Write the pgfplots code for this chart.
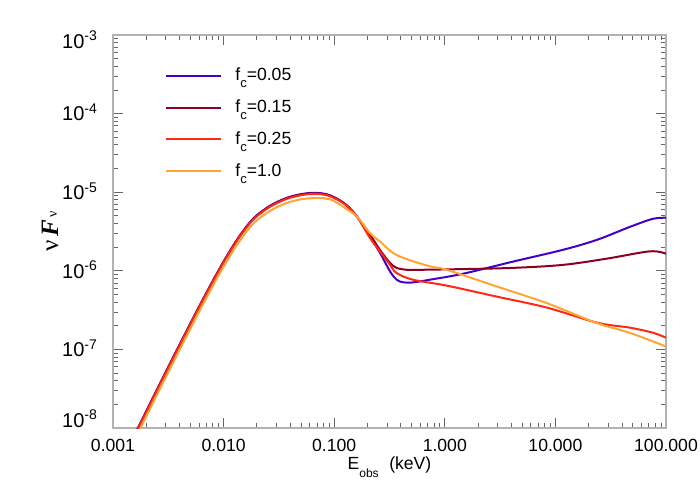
\documentclass[border=0pt]{standalone}
\usepackage{fontspec}
\setmainfont{Liberation Sans}
\newfontfamily\serifgr{Liberation Serif}
\usepackage{pgfplots}
\pgfplotsset{compat=1.18}
\definecolor{cblue}{RGB}{68,0,200}
\definecolor{cmaroon}{RGB}{140,0,35}
\definecolor{cred}{RGB}{255,40,20}
\definecolor{corange}{RGB}{255,165,50}
\pgfplotstableread{
x y
0.00150 7.4e-9
0.00168 1.0e-8
0.00255 3.27e-8
0.00387 1.05e-7
0.00613 3.71e-7
0.00927 1.09e-6
0.0132 2.48e-6
0.01845 4.59e-6
0.02627 6.72e-6
0.0374 8.49e-6
0.0523 9.55e-6
0.0698 9.8e-6
0.0916 9.14e-6
0.1254 7.12e-6
0.161 4.87e-6
0.211 2.71e-6
0.259 1.70e-6
0.320 9.82e-7
0.367 7.71e-7
0.422 7.13e-7
0.519 7.13e-7
0.734 7.71e-7
1.461 9.18e-7
4.14 1.31e-6
11.7 1.85e-6
23.8 2.48e-6
47.3 3.63e-6
76.2 4.59e-6
100 4.73e-6
}\blue
\pgfplotstableread{
x y
0.00150 7.3e-9
0.00168 9.9e-9
0.00255 3.23e-8
0.00387 1.04e-7
0.00613 3.66e-7
0.00927 1.075e-6
0.0132 2.45e-6
0.01845 4.52e-6
0.02627 6.62e-6
0.0374 8.37e-6
0.0523 9.4e-6
0.0698 9.65e-6
0.0916 9.0e-6
0.1254 7.05e-6
0.161 4.87e-6
0.211 2.88e-6
0.259 1.85e-6
0.320 1.26e-6
0.367 1.09e-6
0.452 1.03e-6
0.597 1.03e-6
1.372 1.05e-6
4.14 1.09e-6
11.7 1.19e-6
29.3 1.43e-6
71.6 1.77e-6
100 1.65e-6
}\maroon
\pgfplotstableread{
x y
0.00150 7.2e-9
0.00168 9.7e-9
0.00255 3.17e-8
0.00387 1.02e-7
0.00613 3.6e-7
0.00927 1.06e-6
0.0132 2.41e-6
0.01845 4.45e-6
0.02627 6.52e-6
0.0374 8.24e-6
0.0523 9.26e-6
0.0698 9.5e-6
0.0916 8.9e-6
0.1254 7.0e-6
0.161 4.87e-6
0.211 2.61e-6
0.259 1.77e-6
0.320 1.19e-6
0.367 9.38e-7
0.515 7.71e-7
1.047 6.47e-7
2.965 4.69e-7
8.39 3.40e-7
23.8 2.19e-7
47.3 1.89e-7
76.2 1.63e-7
100 1.41e-7
}\red
\pgfplotstableread{
x y
0.00150 6.4e-9
0.00168 8.6e-9
0.00255 2.81e-8
0.00387 9.0e-8
0.00613 3.19e-7
0.00927 9.4e-7
0.0132 2.13e-6
0.01845 3.95e-6
0.02627 5.78e-6
0.0374 7.3e-6
0.0523 8.2e-6
0.0745 8.44e-6
0.0916 8.1e-6
0.1053 7.4e-6
0.1254 6.3e-6
0.161 4.87e-6
0.211 3.02e-6
0.259 2.36e-6
0.342 1.68e-6
0.452 1.41e-6
0.734 1.14e-6
1.04 1.03e-6
2.93 6.34e-7
8.28 3.90e-7
23.6 2.17e-7
47.3 1.62e-7
100 1.09e-7
}\orange
\newcommand{\ylab}[2]{\raisebox{#1}[0pt][0pt]{10\textsuperscript{#2}}}
\newcommand{\fc}{f\raisebox{-0.75ex}{\fontsize{6.5}{7}\selectfont c}}
\begin{document}
\begin{tikzpicture}
\begin{axis}[
  scale only axis, width=276.5pt, height=196.5pt,
  at={(0,0)}, anchor=south west,
  xmode=log, ymode=log,
  xmin=0.001, xmax=100, ymin=1e-8, ymax=1e-3,
  xtick={0.001,0.01,0.1,1,10,100},
  xticklabels={0.001,0.010,0.100,1.000,10.000,100.000},
  ytick={1e-8,1e-7,1e-6,1e-5,1e-4,1e-3},
  yticklabels={\ylab{0.4pt}{-8},\ylab{-3.6pt}{-7},\ylab{-3.6pt}{-6},\ylab{-3.6pt}{-5},\ylab{-3.6pt}{-4},\ylab{-6.6pt}{-3}},
  tick align=inside,
  major tick length=5pt, minor tick length=2.5pt,
  axis line style={gray!60, line width=0.8pt},
  every tick/.style={gray!80!black, line width=0.4pt},
  xticklabel style={font=\fontsize{8.8}{10}\selectfont, yshift=-2pt},
  yticklabel style={font=\fontsize{10}{12}\selectfont, xshift=-4pt},
  every axis x label/.style={at={(axis description cs:0.5,-0.1)}, anchor=center, font=\fontsize{8.8}{10}\selectfont},
  every axis y label/.style={at={(axis description cs:-0.114,0.5)}, rotate=90, anchor=center},
  xlabel={E\raisebox{-0.8ex}{\fontsize{6}{7}\selectfont obs}\hspace{0.6em}(keV)},
  ylabel={{\serifgr\fontsize{12.5}{13}\selectfont ν\hspace{0.15em}\textbf{\textit{F}}\hspace{0.1em}\raisebox{0.1ex}{\fontsize{7}{8}\selectfont ν}}},
  legend style={draw=none, fill=none, at={(axis description cs:0.094,0.927)}, anchor=north west,
    font=\fontsize{8.8}{10}\selectfont, row sep=4pt, column sep=4.5pt, inner sep=0pt},
  legend cell align=left,
  legend image code/.code={\draw[#1] (0pt,0pt) -- (27.5pt,0pt);},
  every axis plot/.append style={line width=1pt, smooth, tension=0.55},
]
\addplot[cblue] table {\blue};
\addlegendentry{\fc=0.05}
\addplot[cmaroon] table {\maroon};
\addlegendentry{\fc=0.15}
\addplot[cred] table {\red};
\addlegendentry{\fc=0.25}
\addplot[corange] table {\orange};
\addlegendentry{\fc=1.0}
\end{axis}
\pgfresetboundingbox
\useasboundingbox (-56.5pt,-36pt) rectangle (293.5pt,214pt);
\end{tikzpicture}
\end{document}
